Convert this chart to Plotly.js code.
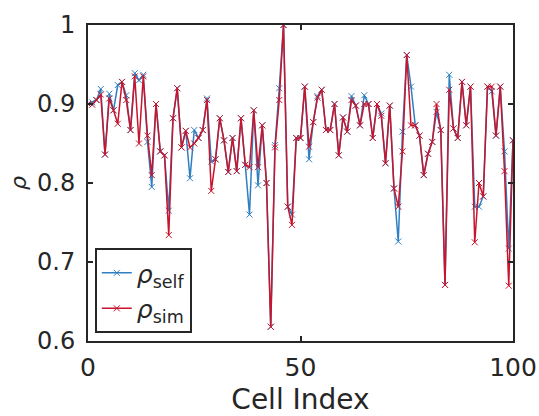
<!DOCTYPE html>
<html>
<head>
<meta charset="utf-8">
<script src="https://cdn.plot.ly/plotly-3.0.1.min.js"></script>
<style>html,body{margin:0;padding:0;background:#fff}#chart{width:539px;height:416px}</style>
</head>
<body>
<div id="chart"></div>
<script>
const cellIndex = Array.from({length: 101}, (_, i) => i);
const rhoSelf = [
0.900,0.902,0.905,0.919,0.836,0.913,0.892,0.924,0.928,0.911,
0.867,0.939,0.930,0.937,0.852,0.795,0.900,0.840,0.835,0.765,
0.882,0.920,0.845,0.866,0.806,0.867,0.857,0.867,0.907,0.827,
0.830,0.882,0.854,0.814,0.857,0.815,0.882,0.823,0.760,0.892,
0.797,0.873,0.800,0.618,0.848,0.920,1.000,0.770,0.760,0.857,
0.857,0.922,0.830,0.877,0.910,0.918,0.867,0.867,0.900,0.835,
0.883,0.865,0.910,0.898,0.873,0.911,0.900,0.857,0.900,0.888,
0.825,0.898,0.793,0.726,0.865,0.962,0.922,0.873,0.860,0.810,
0.837,0.852,0.890,0.867,0.671,0.937,0.869,0.857,0.928,0.873,
0.922,0.770,0.770,0.783,0.922,0.916,0.860,0.922,0.840,0.717,
0.854];
const rhoSim = [
0.900,0.899,0.905,0.912,0.836,0.907,0.892,0.875,0.928,0.905,
0.867,0.935,0.850,0.935,0.860,0.810,0.900,0.840,0.835,0.734,
0.882,0.920,0.845,0.866,0.845,0.850,0.857,0.867,0.905,0.790,
0.830,0.882,0.854,0.814,0.857,0.815,0.882,0.823,0.820,0.892,
0.820,0.873,0.800,0.618,0.845,0.905,1.000,0.770,0.747,0.857,
0.857,0.922,0.846,0.877,0.908,0.918,0.867,0.867,0.900,0.835,
0.883,0.865,0.905,0.898,0.873,0.900,0.900,0.857,0.900,0.885,
0.825,0.898,0.793,0.770,0.840,0.962,0.873,0.873,0.860,0.810,
0.837,0.852,0.900,0.867,0.671,0.918,0.869,0.857,0.928,0.873,
0.922,0.725,0.800,0.783,0.922,0.922,0.860,0.922,0.815,0.670,
0.854];
const yTicks = [0.6, 0.7, 0.8, 0.9, 1];
const yTickText = ['0.6', '0.7', '0.8', '0.9', '1'];
const xTicks = [0, 50, 100];

const blue = '#2f7fc1';
const red = '#c8142c';
const dark = '#262626';

const traces = [
  {x: cellIndex, y: rhoSelf, name: '<i>ρ</i><sub>self</sub>', type: 'scatter', mode: 'lines+markers',
   line: {color: blue, width: 1.5}, marker: {symbol: 'x-thin', size: 6, line: {color: blue, width: 1}}},
  {x: cellIndex, y: rhoSim, name: '<i>ρ</i><sub>sim</sub>', type: 'scatter', mode: 'lines+markers',
   line: {color: red, width: 1.5}, marker: {symbol: 'x-thin', size: 6, line: {color: red, width: 1}}}
];

const axisCommon = {
  showgrid: false, zeroline: false, showline: true, mirror: 'ticks', linecolor: dark, linewidth: 2,
  ticks: 'inside', ticklen: 5, tickwidth: 2, tickcolor: dark
};

const layout = {
  width: 539, height: 416,
  margin: {l: 88, r: 26, t: 25, b: 75},
  paper_bgcolor: '#fff', plot_bgcolor: '#fff',
  showlegend: true,
  legend: {x: 0.016, y: 0.025, xanchor: 'left', yanchor: 'bottom', bgcolor: '#fff',
           bordercolor: dark, borderwidth: 2, font: {family: 'DejaVu Sans', size: 25, color: dark},
           tracegroupgap: 0},
  xaxis: Object.assign({}, axisCommon, {range: [0, 100], tickvals: xTicks,
    tickfont: {family: 'DejaVu Sans', size: 25, color: dark}, ticklabelstandoff: 3,
    title: {text: 'Cell Index', font: {family: 'DejaVu Sans', size: 28, color: dark}, standoff: 12}}),
  yaxis: Object.assign({}, axisCommon, {range: [0.6, 1], tickvals: yTicks, ticktext: yTickText,
    tickfont: {family: 'DejaVu Sans', size: 24, color: dark}, ticklabelstandoff: 6,
    title: {text: '<i>ρ</i>', font: {family: 'DejaVu Sans', size: 22, color: dark}, standoff: 4}})
};

Plotly.newPlot('chart', traces, layout, {displayModeBar: false, staticPlot: true});
</script>
</body>
</html>
